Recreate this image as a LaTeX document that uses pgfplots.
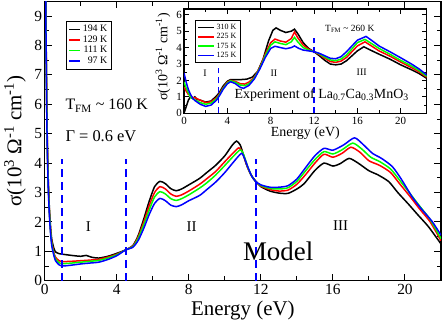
\documentclass[border=0pt]{standalone}
\usepackage{fontspec}
\setmainfont{Liberation Serif}
\usepackage{pgfplots}
\pgfplotsset{compat=1.18}
\begin{document}
\begin{tikzpicture}
\useasboundingbox (-44.7bp,-41.3bp) rectangle (398.3bp,280.7bp);
\begin{axis}[
  scale only axis, width=396.3bp, height=279.3bp,
  xmin=0, xmax=22, ymin=0, ymax=9.5,
  xtick={0,4,...,20}, minor x tick num=1,
  ytick={0,1,...,9}, minor y tick num=1,
  major tick length=7bp, minor tick length=4.5bp,
  tick style={black, line width=1bp},
  axis line style={line width=1.2bp},
  /pgf/number format/assume math mode=true,
  ticklabel style={font=\fontsize{15.5}{17}\selectfont},
  yticklabel style={inner xsep=2.5bp},
  xlabel={Energy (eV)},
  ylabel={σ(10\textsuperscript{3} Ω\textsuperscript{-1} cm\textsuperscript{-1})},
  xlabel style={font=\fontsize{21}{24}\selectfont, at={(axis description cs:0.5,0)}, anchor=base, yshift=-35bp},
  ylabel style={font=\fontsize{21}{24}\selectfont, at={(axis description cs:-0.075,0.5)}, anchor=center},
  legend style={at={(0.0537,0.93)}, anchor=north west, draw=black, line width=0.6bp,
    font=\fontsize{10}{11}\selectfont, row sep=-1.5bp, inner sep=2bp},
  legend cell align=right,
  legend image code/.code={\draw[#1] (0bp,0bp)--(11bp,0bp);},
  every axis plot/.append style={line width=1.5bp, smooth, tension=0.4},
]
\addplot[black] table {
0.03 12
0.08 8.2
0.12 5.8
0.16 4.3
0.2 3.4
0.25 2.6
0.3 2.05
0.35 1.65
0.4 1.38
0.5 1.12
0.6 0.98
0.8 0.92
1.0 0.9
1.5 0.86
2.0 0.83
2.3 0.86
2.6 0.8
3.0 0.77
3.5 0.83
4.0 0.93
4.5 1.05
4.9 1.2
5.2 1.55
5.5 2.1
5.8 2.7
6.1 3.2
6.4 3.38
6.7 3.3
7.0 3.13
7.3 3.06
7.6 3.12
8.0 3.26
8.6 3.48
9.0 3.68
9.5 3.93
10.0 4.25
10.4 4.6
10.65 4.75
10.85 4.62
11.0 4.35
11.2 3.95
11.45 3.6
11.7 3.4
12.0 3.2
12.5 3.05
13.0 2.98
13.5 2.97
14.0 3.12
14.4 3.3
15.0 3.75
15.5 4.0
16.0 3.9
16.4 3.98
16.9 4.16
17.4 4.0
18.0 3.74
18.5 3.6
19.1 3.37
19.6 3.0
20.2 2.6
20.7 2.25
21.3 1.84
22.0 1.25
};
\addlegendentry{194 K}
\addplot[red] table {
0.03 12
0.08 8.0
0.12 5.6
0.16 4.2
0.2 3.3
0.25 2.5
0.3 1.95
0.35 1.55
0.4 1.28
0.5 0.98
0.6 0.8
0.8 0.68
1.0 0.65
1.5 0.66
2.0 0.68
2.5 0.7
3.0 0.73
3.5 0.8
4.0 0.9
4.5 1.05
4.9 1.18
5.2 1.5
5.5 2.0
5.8 2.55
6.1 3.0
6.4 3.2
6.7 3.12
7.0 2.95
7.3 2.87
7.6 2.92
8.0 3.05
8.6 3.28
9.0 3.47
9.5 3.72
10.0 4.05
10.5 4.37
10.78 4.52
10.95 4.4
11.1 4.15
11.3 3.8
11.5 3.55
11.7 3.38
12.0 3.22
12.5 3.1
13.0 3.05
13.5 3.08
14.0 3.28
14.5 3.62
15.0 4.0
15.5 4.3
16.0 4.2
16.5 4.33
17.0 4.54
17.5 4.37
18.0 4.08
18.6 3.92
19.2 3.68
19.7 3.3
20.3 2.85
20.8 2.45
21.4 2.0
22.0 1.36
};
\addlegendentry{129 K}
\addplot[green] table {
0.03 12
0.08 7.9
0.12 5.5
0.16 4.1
0.2 3.2
0.25 2.45
0.3 1.9
0.35 1.5
0.4 1.22
0.5 0.93
0.6 0.74
0.8 0.61
1.0 0.58
1.5 0.6
2.0 0.63
2.5 0.66
3.0 0.69
3.5 0.77
4.0 0.88
4.5 1.05
4.9 1.16
5.2 1.45
5.5 1.9
5.8 2.4
6.1 2.85
6.4 3.03
6.7 2.95
7.0 2.79
7.3 2.73
7.6 2.79
8.0 2.92
8.6 3.15
9.0 3.33
9.5 3.6
10.0 3.92
10.5 4.25
10.85 4.45
11.0 4.35
11.15 4.1
11.3 3.82
11.5 3.55
11.7 3.38
12.0 3.24
12.5 3.14
13.0 3.12
13.5 3.16
14.0 3.38
14.5 3.75
15.0 4.12
15.5 4.39
16.0 4.31
16.5 4.45
17.1 4.68
17.6 4.48
18.1 4.2
18.6 4.05
19.2 3.8
19.7 3.42
20.3 2.95
20.8 2.55
21.4 2.08
22.0 1.43
};
\addlegendentry{111 K}
\addplot[blue] table {
0.03 12
0.08 7.8
0.12 5.4
0.16 4.0
0.2 3.1
0.25 2.35
0.3 1.82
0.35 1.43
0.4 1.16
0.5 0.88
0.6 0.68
0.8 0.54
1.0 0.5
1.5 0.53
2.0 0.57
2.5 0.6
3.0 0.63
3.5 0.72
4.0 0.85
4.5 1.05
4.9 1.14
5.2 1.38
5.5 1.78
5.8 2.25
6.1 2.63
6.4 2.8
6.7 2.72
7.0 2.57
7.3 2.52
7.6 2.58
8.0 2.72
8.6 2.9
9.0 3.1
9.5 3.36
10.0 3.68
10.5 4.05
10.92 4.33
11.1 4.15
11.3 3.83
11.5 3.55
11.7 3.38
12.0 3.26
12.5 3.18
13.0 3.18
13.5 3.23
14.0 3.46
14.5 3.86
15.0 4.25
15.5 4.5
16.0 4.44
16.6 4.62
17.2 4.86
17.7 4.62
18.2 4.33
18.7 4.16
19.3 3.88
19.8 3.45
20.4 2.85
20.9 2.45
21.5 2.02
22.0 1.55
};
\addlegendentry{97 K}
\addplot[blue, sharp plot, line width=1.4bp, dash pattern=on 8bp off 5bp, forget plot] coordinates {(0.96,0) (0.96,4.15)};
\addplot[blue, sharp plot, line width=1.4bp, dash pattern=on 8bp off 5bp, forget plot] coordinates {(4.52,0) (4.52,4.15)};
\addplot[blue, sharp plot, line width=1.4bp, dash pattern=on 8bp off 5bp, forget plot] coordinates {(11.72,0) (11.72,4.15)};
\node[anchor=base west, font=\fontsize{16}{18}\selectfont] at (axis cs:0.96,5.81) {T\textsubscript{FM} \textasciitilde{} 160 K};
\node[anchor=base west, font=\fontsize{16.5}{18}\selectfont] at (axis cs:0.96,4.72) {Γ = 0.6 eV};
\node[font=\fontsize{15}{17}\selectfont] at (axis cs:2.42,1.84) {I};
\node[font=\fontsize{15}{17}\selectfont] at (axis cs:8.15,1.84) {II};
\node[font=\fontsize{15}{17}\selectfont] at (axis cs:16.43,1.86) {III};
\node[font=\fontsize{27}{30}\selectfont] at (axis cs:12.96,0.99) {Model};
\end{axis}
\begin{axis}[
  at={(139.3bp,167.4bp)}, anchor=south west,
  scale only axis, width=242.7bp, height=104.3bp,
  axis background/.style={fill=white},
  xmin=0, xmax=22.4, ymin=0, ymax=6.35,
  xtick={0,4,...,20}, minor x tick num=1,
  ytick={0,1,...,6}, minor y tick num=1,
  major tick length=5bp, minor tick length=3bp,
  tick style={black, line width=0.9bp},
  axis line style={line width=1.1bp},
  /pgf/number format/assume math mode=true,
  ticklabel style={font=\fontsize{11}{12}\selectfont},
  yticklabel style={inner xsep=2bp},
  xticklabel style={inner ysep=4bp},
  xlabel={Energy (eV)},
  ylabel={σ(10\textsuperscript{3} Ω\textsuperscript{-1} cm\textsuperscript{-1})},
  xlabel style={font=\fontsize{14}{16}\selectfont, at={(axis description cs:0.5,0)}, anchor=base, yshift=-23.5bp},
  ylabel style={font=\fontsize{14}{16}\selectfont, at={(axis description cs:-0.0865,0.54)}, anchor=center},
  legend style={at={(0.045,0.895)}, anchor=north west, draw=black, line width=0.6bp,
    font=\fontsize{8}{9}\selectfont, row sep=-1.5bp, inner sep=2bp},
  legend cell align=right,
  legend image code/.code={\draw[#1] (0bp,0bp)--(16bp,0bp);},
  every axis plot/.append style={line width=1.5bp},
]
\addplot[black] table {
0 0
0.2 0.4
0.4 0.8
0.6 1.0
0.8 0.9
1.0 1.0
1.2 0.85
1.5 0.8
2.0 0.68
2.5 0.75
3.0 1.05
3.3 1.3
3.6 1.65
4.0 1.95
4.3 2.05
4.7 2.05
5.2 2.05
5.8 2.08
6.3 2.2
6.8 2.55
7.3 3.3
7.8 4.4
8.2 5.05
8.5 5.2
8.9 5.05
9.4 4.92
9.9 5.0
10.2 5.12
10.5 4.85
11.0 4.3
11.5 3.95
12.0 3.75
12.5 3.5
13.0 3.22
13.5 3.0
14.0 2.95
14.5 3.0
15.0 3.2
15.5 3.5
16.0 3.8
16.6 4.05
17.2 3.85
18.0 3.6
19.0 3.3
20.0 2.95
21.0 2.65
21.7 2.42
22.4 2.13
};
\addlegendentry{310 K}
\addplot[red] table {
0 1.6
0.2 1.35
0.4 1.15
0.6 1.1
0.8 0.95
1.0 0.95
1.5 0.8
2.0 0.65
2.5 0.7
3.0 0.95
3.3 1.2
3.6 1.55
4.0 1.9
4.3 2.0
4.7 1.95
5.2 1.8
5.6 1.78
6.0 1.9
6.5 2.2
7.0 2.8
7.5 3.6
8.0 4.3
8.4 4.52
8.9 4.4
9.4 4.33
9.9 4.55
10.2 4.95
10.5 4.6
11.0 4.15
11.5 3.9
12.0 3.75
12.5 3.58
13.0 3.35
13.5 3.15
14.0 3.1
14.5 3.18
15.0 3.4
15.5 3.75
16.0 4.1
16.7 4.35
17.3 4.1
18.0 3.8
19.0 3.48
20.0 3.12
21.0 2.78
21.7 2.52
22.4 2.2
};
\addlegendentry{225 K}
\addplot[green] table {
0 1.9
0.2 1.55
0.4 1.25
0.6 1.0
0.8 0.9
1.0 0.82
1.5 0.65
2.0 0.55
2.5 0.62
3.0 0.88
3.3 1.15
3.6 1.5
4.0 1.85
4.3 1.98
4.7 1.9
5.2 1.72
5.6 1.68
6.0 1.8
6.5 2.15
7.0 2.75
7.5 3.5
8.0 4.15
8.4 4.35
8.9 4.25
9.4 4.18
9.9 4.35
10.2 4.62
10.5 4.35
11.0 4.0
11.5 3.85
12.0 3.75
12.5 3.62
13.0 3.42
13.5 3.25
14.0 3.2
14.5 3.3
15.0 3.55
15.5 3.92
16.0 4.3
16.7 4.5
17.3 4.25
18.0 3.95
19.0 3.6
20.0 3.22
21.0 2.88
21.7 2.6
22.4 2.25
};
\addlegendentry{175 K}
\addplot[blue] table {
0 2.45
0.2 1.9
0.4 1.45
0.6 1.15
0.8 0.92
1.0 0.78
1.5 0.55
2.0 0.42
2.5 0.5
3.0 0.8
3.3 1.1
3.6 1.45
4.0 1.8
4.3 1.92
4.7 1.82
5.2 1.58
5.5 1.52
6.0 1.7
6.5 2.1
7.0 2.7
7.5 3.4
8.0 3.95
8.4 4.08
8.9 4.0
9.4 3.93
9.9 4.0
10.2 4.1
10.6 3.95
11.0 3.85
11.5 3.8
12.0 3.75
12.5 3.65
13.0 3.5
13.5 3.35
14.0 3.32
14.5 3.45
15.0 3.75
15.5 4.1
16.0 4.45
16.8 4.68
17.4 4.4
18.0 4.1
19.0 3.75
20.0 3.38
21.0 3.0
21.7 2.7
22.4 2.33
};
\addlegendentry{125 K}
\addplot[blue, line width=1.2bp, dash pattern=on 6bp off 4bp, forget plot] coordinates {(3.2,0) (3.2,2.74)};
\addplot[blue, line width=1.2bp, dash pattern=on 6bp off 4bp, forget plot] coordinates {(12.0,0) (12.0,4.56)};
\node[anchor=base west, font=\fontsize{9.5}{11}\selectfont] at (axis cs:12.71,4.97) {T\textsubscript{FM} \textasciitilde{} 260 K};
\node[font=\fontsize{10}{12}\selectfont] at (axis cs:1.94,2.43) {I};
\node[font=\fontsize{10}{12}\selectfont] at (axis cs:8.3,2.43) {II};
\node[font=\fontsize{10}{12}\selectfont] at (axis cs:16.4,2.53) {III};
\node[font=\fontsize{14}{16}\selectfont] at (axis cs:12.71,1.11) {Experiment of La\textsubscript{0.7}Ca\textsubscript{0.3}MnO\textsubscript{3}};
\end{axis}
\end{tikzpicture}
\end{document}
